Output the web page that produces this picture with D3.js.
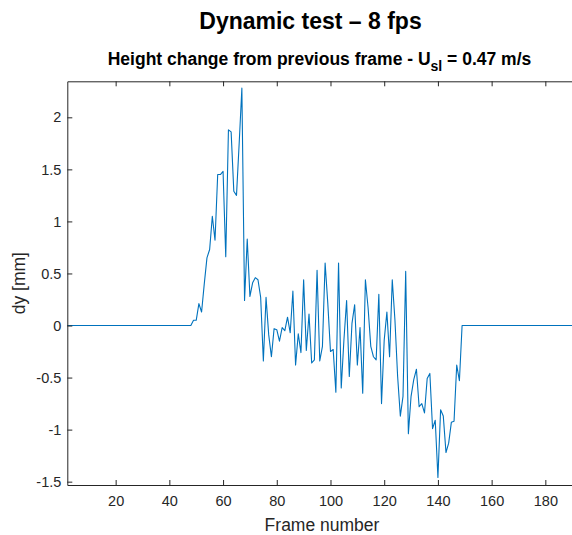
<!DOCTYPE html>
<html>
<head>
<meta charset="utf-8">
<script src="https://cdn.jsdelivr.net/npm/d3@7"></script>
<style>
  body { margin: 0; background: #fff; }
  svg { display: block; font-family: "Liberation Sans", Arial, Helvetica, sans-serif; }
</style>
</head>
<body>
<div id="container"></div>
<script>
// dy [mm] per frame, frames 2..190 (diff of the height series)
const firstFrame = 2;
const dy = [
    0, 0, 0, 0, 0, 0, 0, 0, 0, 0,          // 2-11
    0, 0, 0, 0, 0, 0, 0, 0, 0, 0,          // 12-21
    0, 0, 0, 0, 0, 0, 0, 0, 0, 0,          // 22-31
    0, 0, 0, 0, 0, 0, 0, 0, 0, 0,          // 32-41
    0, 0, 0, 0, 0, 0, 0,                   // 42-48
    0.05, 0.05, 0.21, 0.13, 0.40, 0.65, 0.73, 1.05, 0.82, 1.45,      // 49-58
    1.45, 1.48, 0.66, 1.88, 1.86, 1.29, 1.25, 1.75, 2.28, 0.24,      // 59-68
    0.83, 0.28, 0.41, 0.46, 0.44, 0.27, -0.34, 0.27, -0.09, -0.30,   // 69-78
    -0.03, -0.04, -0.15, -0.02, -0.05, 0.08, -0.07, 0.33, -0.38, -0.08, // 79-88
    -0.26, 0.44, -0.24, 0.11, -0.36, -0.33, 0.53, -0.34, -0.20, 0.60,   // 89-98
    0.21, -0.25, -0.23, -0.64, 0.60, -0.60, -0.14, 0.24, -0.49, 0.02,   // 99-108
    0.20, -0.38, -0.02, -0.65, 0.44, 0.17, -0.20, -0.30, -0.33, 0.30,   // 109-118
    -0.75, -0.14, 0.13, -0.30, 0.44, 0.05, -0.49, -0.87, -0.68, 0.52,   // 119-128
    -1.04, -0.68, -0.52, -0.42, -0.78, -0.75, -0.84, -0.51, -0.46, -0.99, // 129-138
    -0.91, -1.46, -0.81, -0.87, -1.22, -1.13, -0.93, -0.92, -0.38, -0.53, // 139-148
    0, 0, 0, 0, 0, 0, 0, 0, 0, 0,          // 149-158
    0, 0, 0, 0, 0, 0, 0, 0, 0, 0,          // 159-168
    0, 0, 0, 0, 0, 0, 0, 0, 0, 0,          // 169-178
    0, 0, 0, 0, 0, 0, 0, 0, 0, 0,          // 179-188
    0, 0                                    // 189-190
];

const xTicks = [20, 40, 60, 80, 100, 120, 140, 160, 180];
const yTicks = [-1.5, -1, -0.5, 0, 0.5, 1, 1.5, 2];
const xDomain = [2, 190];
const yDomain = [-1.532, 2.346];

const titleText = "Dynamic test \u2013 8 fps";
const subtitleMain = "Height change from previous frame - U";
const subtitleSub = "sl";
const subtitleTail = " = 0.47 m/s";
const xLabel = "Frame number";
const yLabel = "dy [mm]";

const W = 572, H = 535;
const plotLeft = 67.3, plotRight = 572.2, plotTop = 81.3, plotBottom = 485;
const axisColor = "#262626";
const lineColor = "#0072BD";

const svg = d3.select("#container")
    .append("svg")
    .attr("width", W)
    .attr("height", H);

const x = d3.scaleLinear().domain(xDomain).range([plotLeft, plotRight]);
const y = d3.scaleLinear().domain(yDomain).range([plotBottom, plotTop]);

const points = dy.map((v, i) => ({ frame: firstFrame + i, value: v }));

// the data line
svg.append("path")
    .datum(points)
    .attr("fill", "none")
    .attr("stroke", lineColor)
    .attr("stroke-width", 1.1)
    .attr("stroke-linejoin", "round")
    .attr("d", d3.line().x(d => x(d.frame)).y(d => y(d.value)));

// axes, ticks pointing inward like matlab
const styleAxis = g => {
    g.selectAll("path.domain").attr("stroke", axisColor).attr("stroke-width", 1);
    g.selectAll(".tick line").attr("stroke", axisColor).attr("stroke-width", 1);
    g.selectAll(".tick text")
        .attr("fill", axisColor)
        .style("font-size", "14.5px")
        .style("font-family", "'Liberation Sans', Arial, Helvetica, sans-serif");
};

svg.append("g")
    .attr("transform", `translate(0,${plotBottom})`)
    .call(d3.axisBottom(x).tickValues(xTicks).tickSizeInner(-5).tickSizeOuter(0).tickPadding(11))
    .call(styleAxis);

svg.append("g")
    .attr("transform", `translate(0,${plotTop})`)
    .call(d3.axisTop(x).tickValues(xTicks).tickSizeInner(-5).tickSizeOuter(0).tickFormat(""))
    .call(styleAxis);

svg.append("g")
    .attr("transform", `translate(${plotLeft},0)`)
    .call(d3.axisLeft(y).tickValues(yTicks).tickSizeInner(-5).tickSizeOuter(0).tickPadding(6)
        .tickFormat(d => String(d)))
    .call(styleAxis);

// titles
svg.append("text")
    .attr("x", 310.5)
    .attr("y", 29)
    .attr("text-anchor", "middle")
    .style("font-size", "23px")
    .style("font-weight", "bold")
    .attr("fill", "#000")
    .text(titleText);

const sub = svg.append("text")
    .attr("x", 319.5)
    .attr("y", 65)
    .attr("text-anchor", "middle")
    .style("font-size", "17.5px")
    .style("font-weight", "bold")
    .attr("fill", "#000");
sub.append("tspan").text(subtitleMain);
sub.append("tspan").attr("dy", 6).style("font-size", "14px").text(subtitleSub);
sub.append("tspan").attr("dy", -6).text(subtitleTail);

svg.append("text")
    .attr("x", 322)
    .attr("y", 530.5)
    .attr("text-anchor", "middle")
    .style("font-size", "17.5px")
    .attr("fill", axisColor)
    .text(xLabel);

svg.append("text")
    .attr("transform", `translate(25,${(plotTop + plotBottom) / 2}) rotate(-90)`)
    .attr("text-anchor", "middle")
    .style("font-size", "17.5px")
    .attr("fill", axisColor)
    .text(yLabel);
</script>
</body>
</html>
